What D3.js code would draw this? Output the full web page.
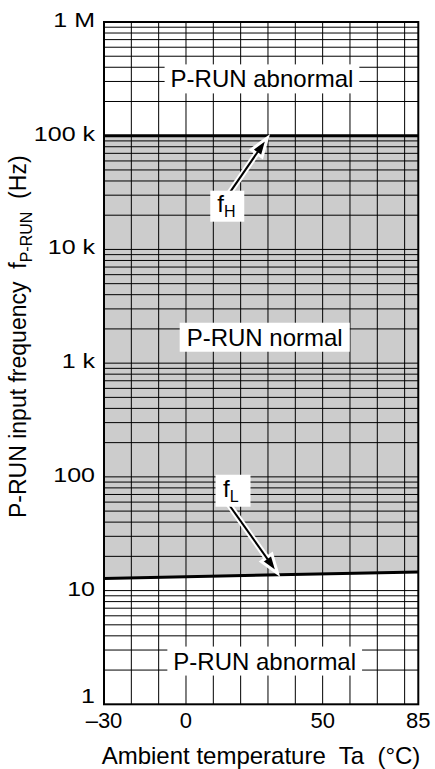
<!DOCTYPE html>
<html><head><meta charset="utf-8">
<script src="https://cdn.jsdelivr.net/npm/d3@7"></script>
<style>
body{margin:0;background:#fff}
svg{display:block}
text{font-family:"Liberation Sans",Arial,Helvetica,sans-serif;fill:#000;white-space:pre}
</style>
</head><body>
<svg id="c" width="435" height="769"></svg>
<script>
// ---- data ----
const tempDomain = [-30, 85];
const freqDomain = [1, 1e6];
const tempTicks = [-30, 0, 50, 85];
const tempTickLabels = ["\u201330", "0", "50", "85"];
const gridTemps = [-20, -10, 0, 10, 20, 30, 40, 50, 60, 70, 80];
const freqTicks = [1, 10, 100, 1e3, 1e4, 1e5, 1e6];
const freqTickLabels = ["1", "10", "100", "1 k", "10 k", "100 k", "1 M"];
const fLowTemps = [-30, 85];
const fLowValues = [12.8, 14.6];
const fHighTemps = [-30, 85];
const fHighValues = [100000, 100000];

// ---- layout ----
const W = 435, H = 769;
const L = 104, R = 418.3, T = 22, B = 704.3;
const svg = d3.select("#c");
const x = d3.scaleLinear().domain(tempDomain).range([L, R]);
const y = d3.scaleLog().domain(freqDomain).range([B, T]);

svg.append("rect").attr("width", W).attr("height", H).attr("fill", "#fff");

// shaded normal region between fL and fH
const area = d3.area()
  .x((d, i) => x(fLowTemps[i]))
  .y0((d, i) => y(fLowValues[i]))
  .y1((d, i) => y(fHighValues[i]));
svg.append("path").datum(fLowTemps).attr("d", area).attr("fill", "#cccccc");

// minor log grid
const minor = [];
for (let e = 0; e < 6; e++) for (let m = 2; m <= 9; m++) minor.push(m * Math.pow(10, e));
const gH = svg.append("g").attr("stroke", "#000").attr("stroke-width", 1);
gH.selectAll("line.m").data(minor.concat(freqTicks.slice(1, -1))).join("line")
  .attr("x1", L).attr("x2", R).attr("y1", d => y(d)).attr("y2", d => y(d));
gH.selectAll("line.v").data(gridTemps).join("line").attr("class","v")
  .attr("x1", d => x(d)).attr("x2", d => x(d)).attr("y1", T).attr("y2", B);

// fL and fH lines
const line = d3.line();
svg.append("path").attr("d", line(fLowTemps.map((t, i) => [x(t), y(fLowValues[i])])))
  .attr("stroke", "#000").attr("stroke-width", 3).attr("fill", "none");
svg.append("path").attr("d", line(fHighTemps.map((t, i) => [x(t), y(fHighValues[i])])))
  .attr("stroke", "#000").attr("stroke-width", 3).attr("fill", "none");

// frame
svg.append("rect").attr("x", L).attr("y", T).attr("width", R - L).attr("height", B - T)
  .attr("fill", "none").attr("stroke", "#000").attr("stroke-width", 2);

// y tick labels
freqTicks.forEach((v, i) => {
  const by = Math.min(y(v) + 5, 703);
  svg.append("text").attr("transform", `translate(95,${by}) scale(1.25,1)`)
    .attr("text-anchor", "end").attr("font-size", 20).text(freqTickLabels[i]);
});
// x tick labels
tempTicks.forEach((v, i) => {
  svg.append("text").attr("x", x(v)).attr("y", 727.5).attr("text-anchor", "middle")
    .attr("font-size", 22).text(tempTickLabels[i]);
});
// x title
svg.append("text").attr("x", 261).attr("y", 764).attr("text-anchor", "middle")
  .attr("font-size", 24).text("Ambient temperature  Ta  (\u00B0C)");
// y title
const yt = svg.append("text").attr("transform", "translate(26,518) rotate(-90)")
  .attr("text-anchor", "start").attr("font-size", 23);
yt.append("tspan").text("P-RUN input frequency  f");
yt.append("tspan").attr("font-size", 16).attr("dy", 6).text("P-RUN");
yt.append("tspan").attr("dy", -6).text("  (Hz)");

// region labels with white boxes
function boxLabel(t, v, str, padX, padY) {
  const tx = svg.append("text").attr("x", x(t)).attr("y", y(v)).attr("text-anchor", "middle")
    .attr("dominant-baseline", "central").attr("font-size", 24).text(str);
  const bb = tx.node().getBBox();
  svg.insert("rect", () => tx.node()).attr("x", bb.x - padX).attr("y", bb.y - padY + 1)
    .attr("width", bb.width + 2 * padX).attr("height", bb.height + 2 * padY - 2).attr("fill", "#fff");
}
boxLabel(27.8, 316000, "P-RUN abnormal", 6, 2);
boxLabel(28.8, 1690, "P-RUN normal", 7, 2);
boxLabel(28.8, 2.4, "P-RUN abnormal", 6, 2);

// arrows
function arrow(x1, y1, x2, y2) {
  const dx = x2 - x1, dy = y2 - y1, len = Math.hypot(dx, dy);
  const ux = dx / len, uy = dy / len, hl = 19, hw = 6.5;
  const bx = x2 - ux * hl, by = y2 - uy * hl;
  const head = [[x2, y2], [bx - uy * hw, by + ux * hw], [bx + uy * hw, by - ux * hw]];
  const g = svg.append("g");
  g.append("line").attr("x1", x1).attr("y1", y1).attr("x2", bx).attr("y2", by)
    .attr("stroke", "#fff").attr("stroke-width", 6);
  g.append("polygon").attr("points", head.join(" ")).attr("fill", "#000")
    .attr("stroke", "#fff").attr("stroke-width", 3).attr("stroke-linejoin", "miter");
  g.append("line").attr("x1", x1).attr("y1", y1).attr("x2", bx + ux * 2).attr("y2", by + uy * 2)
    .attr("stroke", "#000").attr("stroke-width", 2);
}
// fH arrow: tip on fH line at 30 C
arrow(x(14.5), y(28000), x(29.8), y(fHighValues[0]) + 2);
// fL arrow: tip on fL line at 33.5 C
const fLat = t => fLowValues[0] * Math.pow(fLowValues[1] / fLowValues[0], (t - fLowTemps[0]) / (fLowTemps[1] - fLowTemps[0]));
arrow(x(15.5), y(58), x(33.5), y(fLat(33.5)) - 1.5);

// f labels with subscripts
function fLabel(t, v, sub, bw, bh) {
  const cx = x(t), cy = y(v);
  svg.append("rect").attr("x", cx - bw / 2).attr("y", cy - bh / 2).attr("width", bw).attr("height", bh).attr("fill", "#fff");
  const tx = svg.append("text").attr("x", cx - 10).attr("y", cy + 6).attr("font-size", 24);
  tx.append("tspan").text("f");
  tx.append("tspan").attr("font-size", 16).attr("dy", 5).text(sub);
}
fLabel(15.1, 24000, "H", 34, 31);
fLabel(17.2, 75.5, "L", 35, 32);
</script>
</body></html>
